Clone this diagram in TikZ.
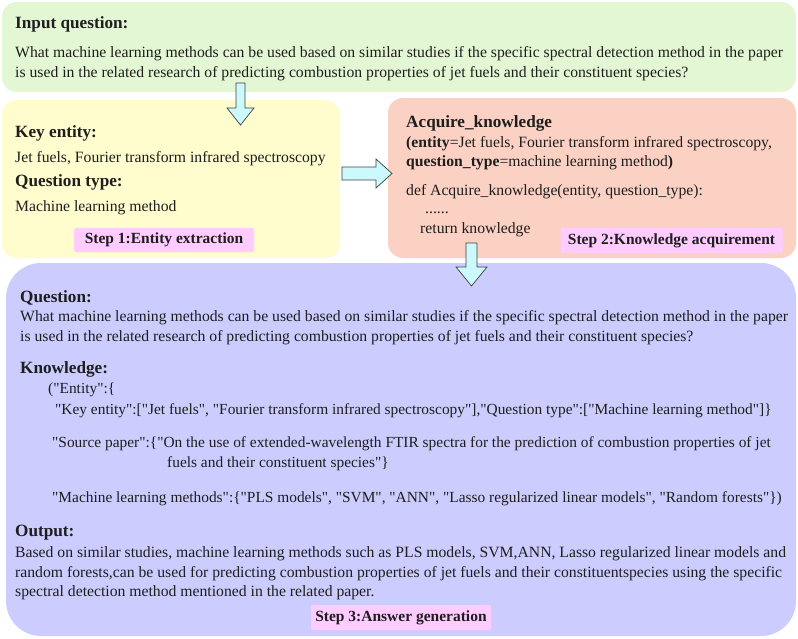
\documentclass[tikz,border=0pt]{standalone}
\usepackage{fontspec}
\setmainfont{Liberation Serif}[Ligatures=TeXOff]
\usetikzlibrary{shapes.arrows}
\definecolor{cgreen}{RGB}{228,247,212}
\definecolor{cyellow}{RGB}{255,252,206}
\definecolor{csalmon}{RGB}{251,209,195}
\definecolor{cpurple}{RGB}{204,204,255}
\definecolor{cpink}{RGB}{255,204,255}
\definecolor{carrow}{RGB}{204,250,252}
\definecolor{ctext}{RGB}{30,30,30}
\tikzset{
  x=1pt,y=-1pt,
  body/.style={anchor=base west,inner sep=0pt,font=\fontsize{15.7}{18}\selectfont,text=ctext},
  kbody/.style={anchor=base west,inner sep=0pt,font=\fontsize{15.4}{18}\selectfont,text=ctext},
  title/.style={anchor=base west,inner sep=0pt,font=\fontsize{17.2}{20}\selectfont\bfseries,text=ctext},
  steplabel/.style={fill=cpink,inner sep=0pt,rounded corners=2pt,font=\fontsize{15.5}{18}\selectfont\bfseries,text=ctext},
  panel/.style={draw=none,rounded corners=15pt},
  bigarrow/.style={draw=black!75,fill=carrow,line width=0.7pt,line join=miter}
}
\begin{document}
\begin{tikzpicture}
\useasboundingbox (0,0) rectangle (798,638);
% panels
\path[panel,fill=cgreen] (2,2) rectangle (796,92);
\path[panel,fill=cyellow] (2,100) rectangle (340,258);
\path[panel,fill=csalmon] (388,98) rectangle (796,258);
\path[fill=cpurple,rounded corners=35pt] (6,263) rectangle (796,636);
% panel 1
\node[title] (iq) at (15,28) {Input question:};
\node[body] (iq1) at (15,57) {What machine learning methods can be used based on similar studies if the specific spectral detection method in the paper};
\node[body] (iq2) at (15,77) {is used in the related research of predicting combustion properties of jet fuels and their constituent species?};
% panel 2
\node[title] (ke) at (15,137) {Key entity:};
\node[body] (ke1) at (15,162) {Jet fuels, Fourier transform infrared spectroscopy};
\node[title] (qt) at (15,186) {Question type:};
\node[body] (qt1) at (15,211) {Machine learning method};
\node[steplabel,minimum width=180pt,minimum height=24pt] (s1) at (164,240) {Step 1:Entity extraction};
% panel 3
\node[title] (ak) at (406,127) {Acquire\_knowledge};
\node[body] (ak1) at (406,147) {\textbf{(entity}=Jet fuels, Fourier transform infrared spectroscopy,};
\node[body] (ak2) at (406,166) {\textbf{question\_type}=machine learning method\textbf{)}};
\node[body] (ak3) at (406,195) {def Acquire\_knowledge(entity, question\_type):};
\node[body] (ak4) at (425,213) {......};
\node[body] (ak5) at (420,233) {return knowledge};
\node[steplabel,minimum width=222pt,minimum height=25pt] (s2) at (671.5,240.5) {Step 2:Knowledge acquirement};
% panel 4
\node[title] (qq) at (20,302) {Question:};
\node[body] (qq1) at (20,321) {What machine learning methods can be used based on similar studies if the specific spectral detection method in the paper};
\node[body] (qq2) at (20,341) {is used in the related research of predicting combustion properties of jet fuels and their constituent species?};
\node[title] (kn) at (20,373) {Knowledge:};
\node[kbody] (k1) at (48,393) {("Entity":\{};
\node[kbody] (k2) at (55,414) {"Key entity":["Jet fuels", "Fourier transform infrared spectroscopy"],"Question type":["Machine learning method"]\}};
\node[kbody] (k3) at (52,447) {"Source paper":\{"On the use of extended-wavelength FTIR spectra for the prediction of combustion properties of jet};
\node[kbody] (k4) at (167,467) {fuels and their constituent species"\}};
\node[kbody] (k5) at (52,502) {"Machine learning methods":\{"PLS models", "SVM", "ANN", "Lasso regularized linear models", "Random forests"\})};
\node[title] (out) at (15,536) {Output:};
\node[body] (o1) at (15,557) {Based on similar studies, machine learning methods such as PLS models, SVM,ANN, Lasso regularized linear models and};
\node[body] (o2) at (15,577) {random forests,can be used for predicting combustion properties of jet fuels and their constituentspecies using the specific};
\node[body] (o3) at (15,596) {spectral detection method mentioned in the related paper.};
\node[steplabel,minimum width=180pt,minimum height=25pt] (s3) at (401,617.5) {Step 3:Answer generation};
% arrows
\draw[bigarrow] (236,83) -- (245,83) -- (245,108) -- (254,108) -- (240.5,125) -- (227,108) -- (236,108) -- cycle;
\draw[bigarrow] (342,167) -- (376,167) -- (376,159) -- (392,173.5) -- (376,188) -- (376,180) -- (342,180) -- cycle;
\draw[bigarrow] (466,243) -- (477,243) -- (477,267) -- (487,267) -- (471.5,286) -- (456,267) -- (466,267) -- cycle;
\end{tikzpicture}
\end{document}
